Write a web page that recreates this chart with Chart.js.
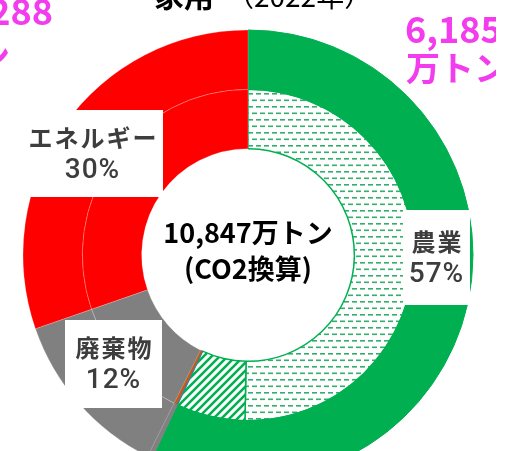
<!DOCTYPE html>
<html>
<head>
<meta charset="utf-8">
<script src="https://cdn.jsdelivr.net/npm/chart.js@4"></script>
<style>
  html, body { margin:0; padding:0; background:#fff; overflow:hidden; width:519px; height:451px; }
  #wrap { position:absolute; left:0; top:0; width:496px; height:510px; }
</style>
</head>
<body>
<div id="wrap"><canvas id="myChart" width="496" height="510"></canvas></div>
<script>
// 万トン (CO2換算)
const outerLabels = ["農業", "その他A", "その他B", "廃棄物", "エネルギー"];
const outerValues = [6185, 12, 25, 1337, 3288];
const innerLabels = ["農業(内訳1)", "農業(内訳2)", "その他A", "その他B", "廃棄物", "エネルギー"];
const innerValues = [5455, 730, 12, 25, 1337, 3288];

const GREEN = "#00B050", RED = "#FF0000", GRAY = "#808080", BLUE = "#4472C4", BROWN = "#C55A11";
const FONT = "'Noto Sans CJK JP', 'Noto Sans', sans-serif";

// dashed dots pattern
function dashPattern() {
    let c = document.createElement("canvas");
    c.width = 8; c.height = 13;
    let g = c.getContext("2d");
    g.fillStyle = "#fff"; g.fillRect(0, 0, 8, 13);
    g.fillStyle = "#34AE6C";
    g.fillRect(0, 2, 5, 1.6);
    g.fillRect(4, 8.5, 4, 1.6);
    g.fillRect(0, 8.5, 1, 1.6);
    return g.createPattern(c, "repeat");
}
// diagonal stripes
function stripePattern() {
    let c = document.createElement("canvas");
    c.width = 8; c.height = 8;
    let g = c.getContext("2d");
    g.fillStyle = "#fff"; g.fillRect(0, 0, 8, 8);
    g.strokeStyle = GREEN; g.lineWidth = 2.6;
    g.beginPath();
    g.moveTo(-2, 10); g.lineTo(10, -2);
    g.moveTo(-2, 2); g.lineTo(2, -2);
    g.moveTo(6, 10); g.lineTo(10, 6);
    g.stroke();
    return g.createPattern(c, "repeat");
}

const total = outerValues.reduce((a, b) => a + b, 0);
const pct = v => Math.round(v / total * 100) + "%";
const fmt = v => v.toLocaleString("en-US");

const labelPlugin = {
    id: "labelPlugin",
    afterDraw(chart) {
        const ctx = chart.ctx;
        ctx.save();
        ctx.textAlign = "center";
        ctx.textBaseline = "middle";

        // center
        ctx.fillStyle = "#000";
        ctx.font = "bold 27px " + FONT;
        ctx.fillText(fmt(total) + "万トン", 248, 233);
        ctx.fillText("(CO2換算)", 248, 269);

        // boxes
        const boxes = [
            {x: 22, y: 110, w: 141, h: 87, name: outerLabels[4], v: outerValues[4]},
            {x: 403, y: 210, w: 67, h: 95, name: outerLabels[0], v: outerValues[0]},
            {x: 65, y: 320, w: 97, h: 88, name: outerLabels[3], v: outerValues[3]},
        ];
        boxes.forEach(b => {
            ctx.fillStyle = "#fff";
            ctx.fillRect(b.x, b.y, b.w, b.h);
            let cx = b.x + b.w / 2;
            ctx.fillStyle = "#3d3d3d";
            ctx.font = "bold 24px " + FONT;
            ctx.letterSpacing = "2px";
            ctx.fillText(b.name, cx + 1, b.y + b.h / 2 - 16);
            ctx.font = "500 28px Roboto, " + FONT;
            ctx.letterSpacing = "1px";
            ctx.fillText(pct(b.v), cx, b.y + b.h / 2 + 17);
        });
        ctx.letterSpacing = "0px";

        // magenta amounts
        ctx.fillStyle = "#F23CEE";
        ctx.textAlign = "left";
        ctx.font = "bold 36px " + FONT;
        ctx.fillText(fmt(outerValues[0]), 405, 29);
        ctx.font = "bold 34px " + FONT;
        ctx.fillText("万トン", 406, 68);
        ctx.textAlign = "right";
        ctx.font = "bold 36px " + FONT;
        ctx.fillText(fmt(outerValues[4]), 53, 11);
        ctx.font = "bold 34px " + FONT;
        ctx.fillText("万トン", 10, 56);

        // title (cut off at top)
        ctx.fillStyle = "#000";
        ctx.textBaseline = "alphabetic";
        ctx.textAlign = "right";
        ctx.font = "bold 30px " + FONT;
        ctx.fillText("家用", 214, 7);
        ctx.textAlign = "left";
        ctx.font = "28px " + FONT;
        ctx.fillText("（2022年）", 226, 7);
        ctx.restore();
    }
};

let myChart = document.getElementById("myChart").getContext("2d");

let ghgChart = new Chart(myChart, {
    type: "doughnut",
    data: {
        labels: innerLabels,
        datasets: [{
            label: "大分類",
            data: outerValues,
            backgroundColor: [GREEN, GRAY, GRAY, GRAY, RED],
            borderColor: [GREEN, GRAY, GRAY, "rgba(255,255,255,0.2)", "rgba(255,255,255,0.2)"],
            borderWidth: 1,
        }, {
            label: "内訳",
            data: innerValues,
            backgroundColor: [dashPattern(), stripePattern(), BLUE, BROWN, GRAY, RED],
            borderColor: [GREEN, GREEN, BLUE, BROWN, "rgba(255,255,255,0.2)", "rgba(255,255,255,0.2)"],
            borderWidth: [1.5, 1.5, 1, 1, 1, 1],
        }]
    },
    options: {
        responsive: false,
        animation: false,
        radius: 225,
        cutout: 117,
        layout: { padding: 0 },
        plugins: {
            legend: { display: false },
            tooltip: { enabled: false }
        }
    },
    plugins: [labelPlugin]
});
</script>
</body>
</html>
